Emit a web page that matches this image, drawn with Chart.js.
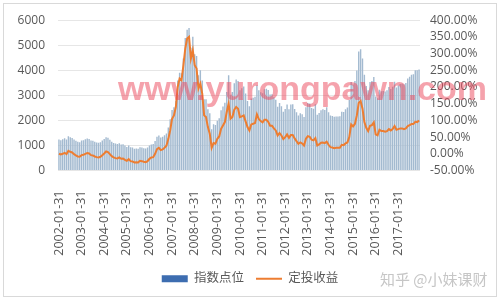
<!DOCTYPE html>
<html>
<head>
<meta charset="utf-8">
<script src="https://cdn.jsdelivr.net/npm/chart.js@4/dist/chart.umd.min.js"></script>
<style>
  html, body { margin: 0; padding: 0; background: #ffffff; }
  #wrap { width: 500px; height: 303px; position: relative; }
</style>
</head>
<body>
<div id="wrap"><canvas id="c" width="500" height="303"></canvas></div>
<script>
// ---- data ----
const years = [2002, 2003, 2004, 2005, 2006, 2007, 2008, 2009, 2010, 2011, 2012, 2013, 2014, 2015, 2016, 2017];
const tickLabels = ['2002-01-31','2003-01-31','2004-01-31','2005-01-31','2006-01-31','2007-01-31','2008-01-31','2009-01-31','2010-01-31','2011-01-31','2012-01-31','2013-01-31','2014-01-31','2015-01-31','2016-01-31','2017-01-31'];

// 指数点位 (monthly index level, left axis)
const indexPoints = [
  1240, 1210, 1250, 1290, 1240, 1370, 1330, 1300, 1240, 1190, 1150, 1130,
  1200, 1210, 1250, 1280, 1260, 1200, 1190, 1150, 1120, 1110, 1130, 1200,
  1260, 1330, 1310, 1230, 1150, 1100, 1080, 1060, 1090, 1040, 1050, 1000,
  940, 1000, 930, 920, 870, 880, 870, 930, 920, 890, 880, 923,
  1000, 1040, 1060, 1180, 1350, 1400, 1320, 1350, 1410, 1480, 1720, 2041,
  2420, 2520, 2780, 3590, 3900, 3880, 4470, 5290, 5620, 5690, 4900, 5338,
  4640, 4570, 3800, 4000, 3590, 2840, 2840, 2450, 2290, 1650, 1850, 1817,
  1990, 2090, 2410, 2550, 2700, 3130, 3800, 3020, 3130, 3480, 3630, 3575,
  3200, 3280, 3350, 3070, 2770, 2560, 2870, 2900, 2940, 3400, 3200, 3128,
  3080, 3240, 3260, 3210, 3030, 3040, 2920, 2820, 2540, 2690, 2560, 2346,
  2460, 2630, 2450, 2630, 2640, 2460, 2330, 2200, 2290, 2250, 2140, 2523,
  2690, 2670, 2500, 2470, 2640, 2230, 2300, 2410, 2450, 2420, 2520, 2330,
  2200, 2180, 2150, 2160, 2160, 2170, 2350, 2340, 2450, 2510, 2810, 3533,
  3430, 3570, 3990, 4750, 4840, 4470, 3820, 3370, 3200, 3530, 3570, 3731,
  2950, 2880, 3220, 3160, 3170, 3150, 3200, 3330, 3250, 3340, 3540, 3310,
  3390, 3450, 3460, 3440, 3490, 3670, 3740, 3820, 3840, 4000, 4000, 4030
];

// 定投收益 (DCA return in %, right axis)
const dcaReturn = [
  0, -2, 0, 3, -1, 9, 6, 4, -1, -5, -8, -9,
  -4, -3, 0, 2, 1, -4, -5, -8, -10, -11, -9, -4,
  1, 7, 5, -1, -7, -11, -13, -14, -11, -15, -14, -18,
  -21, -16, -22, -23, -26, -25, -26, -21, -22, -24, -25, -22,
  -15, -11, -10, 0, 14, 18, 11, 13, 18, 24, 44, 70,
  105, 115, 140, 200, 225, 220, 265, 315, 345, 350, 285, 310,
  265, 255, 195, 210, 180, 115, 110, 80, 60, 18, 32, 30,
  45, 52, 75, 85, 95, 125, 150, 105, 110, 132, 140, 135,
  110, 112, 115, 97, 80, 70, 88, 90, 92, 118, 104, 98,
  94, 102, 102, 96, 84, 84, 76, 70, 55, 62, 55, 44,
  50, 58, 48, 56, 56, 46, 38, 30, 34, 31, 25, 45,
  53, 51, 42, 40, 47, 25, 28, 33, 34, 32, 36, 27,
  20, 19, 17, 18, 18, 18, 27, 26, 31, 34, 50, 88,
  82, 90, 115, 152, 158, 135, 95, 78, 68, 84, 86, 94,
  58, 55, 72, 68, 68, 66, 68, 74, 70, 74, 83, 72,
  74, 76, 76, 74, 76, 83, 86, 89, 89, 96, 95, 100
];

// month-end category labels
const categories = [];
years.forEach(y => {
  for (let m = 1; m <= 12; m++) {
    const last = new Date(y, m, 0).getDate();
    categories.push(y + '-' + String(m).padStart(2, '0') + '-' + last);
  }
});

const FONT = '"Open Sans", "Noto Sans CJK SC", sans-serif';
const TXT = '#595959';

const framePlugin = {
  id: 'frame',
  beforeDraw(chart) {
    const ctx = chart.ctx;
    ctx.save();
    ctx.fillStyle = '#ffffff';
    ctx.fillRect(0, 0, chart.width, chart.height);
    ctx.strokeStyle = '#d9d9d9';
    ctx.lineWidth = 1;
    ctx.strokeRect(3.5, 3.5, 493, 293);
    ctx.restore();
  },
  afterDraw(chart) {
    const ctx = chart.ctx;
    ctx.save();
    ctx.font = 'bold 34px "Liberation Sans", Arial, sans-serif';
    ctx.fillStyle = 'rgba(236, 70, 90, 0.5)';
    ctx.textBaseline = 'alphabetic';
    ctx.textAlign = 'left';
    ctx.fillText('www.yurongpawn.com', 118, 100);
    ctx.font = '15px "Noto Sans CJK SC", sans-serif';
    ctx.fillStyle = '#c6c6c6';
    ctx.textBaseline = 'middle';
    ctx.fillText('知乎 @小妹课财', 380, 279);
    ctx.restore();
  }
};

new Chart(document.getElementById('c'), {
  data: {
    labels: categories,
    datasets: [
      {
        type: 'line',
        label: '定投收益',
        data: dcaReturn,
        yAxisID: 'y2',
        borderColor: '#ed7d31',
        backgroundColor: '#ed7d31',
        borderWidth: 2,
        pointRadius: 0,
        tension: 0,
        pointStyle: 'line',
        order: 1
      },
      {
        type: 'bar',
        label: '指数点位',
        data: indexPoints,
        yAxisID: 'y',
        backgroundColor: '#a3bad0',
        borderWidth: 0,
        barPercentage: 0.75,
        categoryPercentage: 1.0,
        pointStyle: 'rect',
        order: 2
      }
    ]
  },
  options: {
    responsive: false,
    animation: false,
    devicePixelRatio: 1,
    layout: { padding: { left: 0, right: 0, top: 12, bottom: 8 } },
    plugins: {
      legend: {
        position: 'bottom',
        reverse: true,
        labels: {
          usePointStyle: true,
          pointStyleWidth: 26,
          boxHeight: 7,
          boxWidth: 26,
          padding: 12,
          color: TXT,
          font: { family: FONT, size: 12.5 },
          generateLabels(chart) {
            const items = Chart.defaults.plugins.legend.labels.generateLabels(chart);
            items.forEach(it => {
              if (it.text === '指数点位') {
                it.fillStyle = '#3d6db0';
                it.strokeStyle = '#3d6db0';
                it.pointStyle = 'rect';
                it.lineWidth = 0;
              } else {
                it.pointStyle = 'line';
                it.strokeStyle = '#ed7d31';
                it.lineWidth = 2;
              }
            });
            return items;
          }
        }
      },
      tooltip: { enabled: false }
    },
    scales: {
      x: {
        offset: true,
        grid: { display: false, drawTicks: false },
        border: { display: false },
        ticks: {
          autoSkip: false,
          minRotation: 90,
          maxRotation: 90,
          padding: 20,
          color: TXT,
          font: { family: FONT, size: 12.5 },
          callback(value, index) {
            if (index % 12 !== 0) return null;
            return tickLabels[index / 12];
          }
        },
        afterFit(scale) { scale.height = 90; }
      },
      y: {
        position: 'left',
        min: 0,
        max: 6000,
        grid: { color: '#e6e6e6', drawTicks: false },
        border: { display: false },
        ticks: {
          stepSize: 1000,
          autoSkip: false,
          padding: 13,
          color: TXT,
          font: { family: FONT, size: 12 },
          callback(v) { return String(v); }
        },
        afterFit(scale) { scale.width = 58; }
      },
      y2: {
        position: 'right',
        min: -50,
        max: 400,
        grid: { display: false, drawTicks: false },
        border: { display: false },
        ticks: {
          stepSize: 50,
          autoSkip: false,
          padding: 10,
          color: TXT,
          font: { family: FONT, size: 12 },
          callback(v) { return v.toFixed(2) + '%'; }
        },
        afterFit(scale) { scale.width = 80; }
      }
    }
  },
  plugins: [framePlugin]
});
</script>
</body>
</html>
